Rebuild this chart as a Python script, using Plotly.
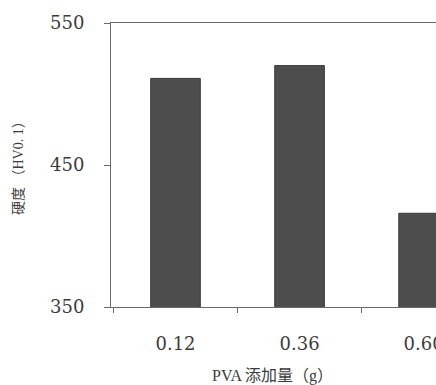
import plotly.graph_objects as go

# PVA addition (g) and measured microhardness (HV0.1)
pva_amounts = ["0.12", "0.36", "0.60"]
hardness = [511, 520, 416]

y_ticks = [350, 450, 550]

serif = "DejaVu Serif"
title_font = "Liberation Serif, Noto Sans CJK SC"
axis_color = "#6a6a6a"
text_color = "#3c3c3c"

fig = go.Figure(
    go.Bar(
        x=pva_amounts,
        y=hardness,
        marker=dict(color="#4d4d4d", line=dict(color="#3a3a3a", width=1)),
        width=0.4,
    )
)

fig.update_layout(
    width=436,
    height=385,
    margin=dict(l=111, r=0, t=23, b=78, autoexpand=False),
    paper_bgcolor="white",
    plot_bgcolor="white",
    showlegend=False,
    font=dict(family=serif, size=18, color=text_color),
)

fig.update_xaxes(
    type="category",
    range=[-0.52, 2.10],
    automargin=False,
    showline=True,
    linecolor=axis_color,
    linewidth=1,
    mirror=True,
    ticks="outside",
    tickson="boundaries",
    ticklen=5,
    tickcolor=axis_color,
    ticklabelstandoff=20,
    showgrid=False,
    tickfont=dict(family=serif, size=18, color=text_color),
)

fig.update_yaxes(
    range=[350, 550],
    automargin=False,
    tickvals=y_ticks,
    ticktext=[str(v) for v in y_ticks],
    showline=True,
    linecolor=axis_color,
    linewidth=1,
    ticks="outside",
    ticklen=6,
    tickcolor=axis_color,
    ticklabelstandoff=16,
    showgrid=False,
    zeroline=False,
    tickfont=dict(family=serif, size=18, color=text_color),
)

fig.add_annotation(
    text="硬度 （HV0. 1）",
    xref="paper", yref="paper",
    x=-0.286, y=0.5,
    xanchor="center", yanchor="middle",
    textangle=-90,
    showarrow=False,
    font=dict(family=title_font, size=14, color=text_color),
)

fig.add_annotation(
    text="PVA 添加量（g）",
    xref="paper", yref="paper",
    x=0.498, y=-0.243,
    xanchor="center", yanchor="middle",
    showarrow=False,
    font=dict(family=title_font, size=16, color=text_color),
)

fig.write_html("out.html")
